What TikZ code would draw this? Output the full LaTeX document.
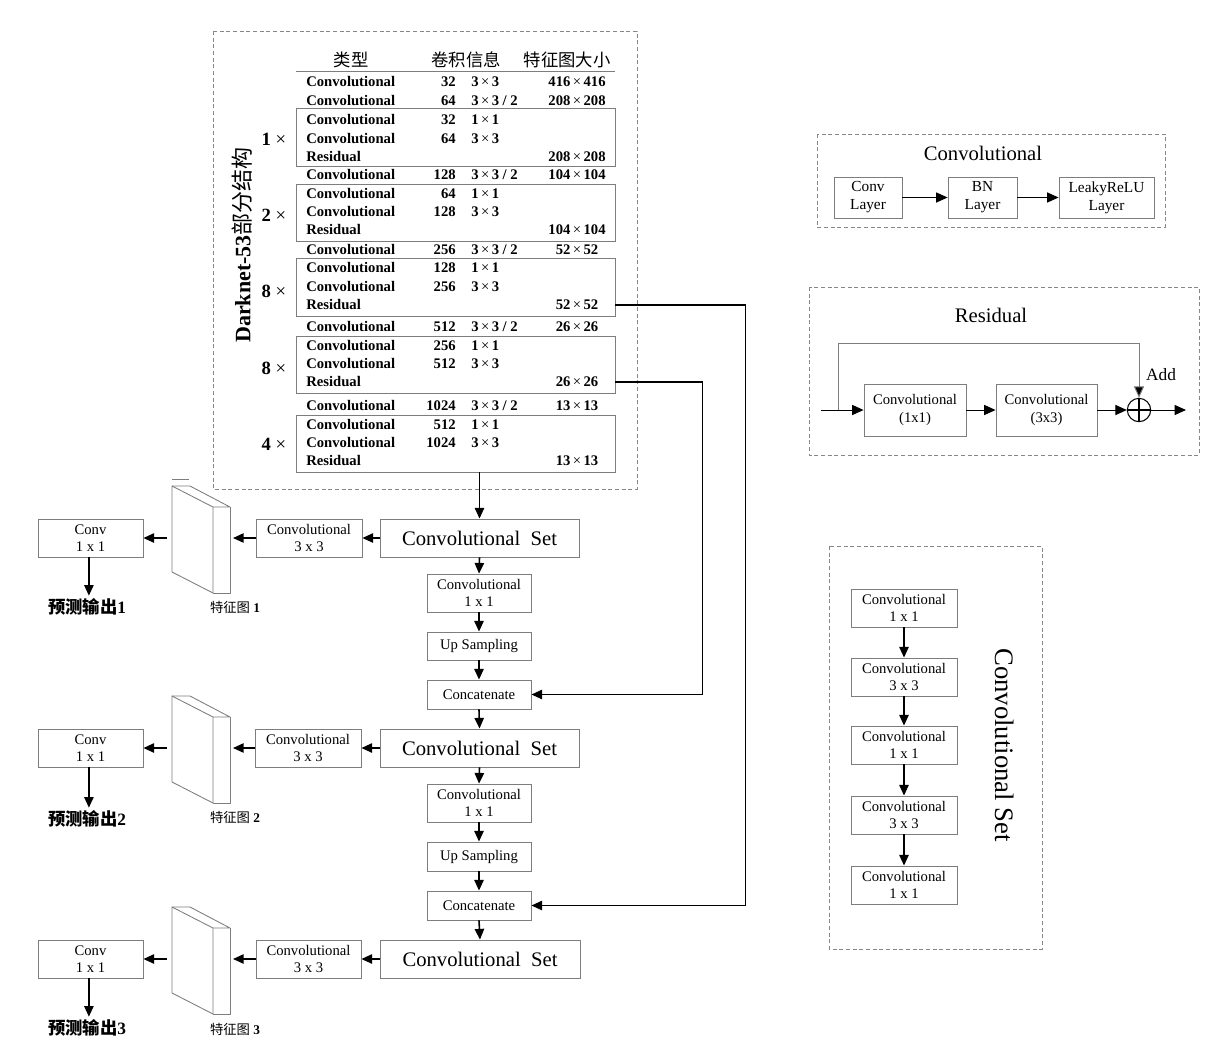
\documentclass[tikz,border=0pt]{standalone}
\usepackage{fontspec}
\setmainfont{Liberation Serif}
\newfontfamily\cjk{Noto Sans CJK SC}
\usetikzlibrary{arrows.meta,fit,calc}
\definecolor{boxgray}{RGB}{125,125,125}
\definecolor{dashgray}{RGB}{135,135,135}
\newcommand\fsz[2]{\fontsize{#1}{#2}\selectfont}
\newcommand\tms{{\mdseries ×}}
\newcommand\trow[6]{%
 \node[tt,anchor=mid west] (#1t) at (306,#2+1.5) {#3};
 \node[tt,anchor=mid east] (#1f) at (456,#2+1.5) {#4};
 \node[tt,anchor=mid west] (#1k) at (471,#2+1.5) {#5};
 \node[tt,anchor=mid] (#1s) at (577,#2+1.5) {#6};}
\newcommand\slab[2]{%
 \draw[slabline] (172,486+#2) -- (213,507+#2) -- (213,593+#2) -- (172,572+#2) -- cycle;
 \draw[slabline] (172,486+#2) -- (190,486+#2) -- (230,507+#2) -- (213,507+#2);
 \draw[slabline] (230,507+#2) -- (230,593+#2) -- (213,593+#2);
 \coordinate (#1r) at (233,538+#2);
 \coordinate (#1l) at (167,538+#2);}
\newcommand\bx[7][]{%
 \pgfmathsetmacro\bxcx{(#3+#5)/2}\pgfmathsetmacro\bxcy{(#4+#6)/2}%
 \pgfmathsetmacro\bxw{(#5-#3)*0.75}\pgfmathsetmacro\bxh{(#6-#4)*0.75}%
 \node[box,#1,minimum width=\bxw pt,minimum height=\bxh pt] (#2) at (\bxcx,\bxcy) {#7};}
\begin{document}
\begin{tikzpicture}[x=0.75pt,y=-0.75pt,
 box/.style={draw=boxgray,line width=0.65pt,inner sep=0pt,align=center,font=\fsz{11}{13.2}},
 tbox/.style={draw=boxgray,line width=0.65pt,inner sep=0pt},
 dbox/.style={draw=dashgray,line width=0.6pt,dash pattern=on 3pt off 2pt},
 tt/.style={inner sep=0pt,font=\bfseries\fsz{11}{13}},
 arr/.style={-{Triangle[length=8pt,width=7pt]},line width=1.2pt},
 thinarr/.style={-{Triangle[length=8.5pt,width=7.5pt]},line width=0.7pt},
 slabline/.style={draw=boxgray,line width=0.65pt,line join=round},
]
\fill[white] (0,0) rectangle (1222,1047);
\useasboundingbox (0,0) rectangle (1222,1047);

% ---------- Darknet table ----------
\draw[dbox] (213,31) rectangle (637,489);
\node[font=\cjk\fsz{13}{15}] (h1) at (351,60) {类型};
\node[font=\cjk\fsz{13}{15}] (h2) at (466,60) {卷积信息};
\node[font=\cjk\fsz{13}{15}] (h3) at (567,60) {特征图大小};
\draw[boxgray,line width=1.2pt] (296,71.5) -- (615,71.5);
\node[rotate=90,font=\bfseries\fsz{16.5}{19}] (dtitle) at (242,245) {Darknet-53{\cjk\mdseries 部分结构}};

\node[tbox,fit={(296,108) (615,166)}] (b1) {};
\node[tbox,fit={(296,184) (615,241)}] (b2) {};
\node[tbox,fit={(296,258) (615,316)}] (b3) {};
\node[tbox,fit={(296,336) (615,393)}] (b4) {};
\node[tbox,fit={(296,415) (615,472)}] (b5) {};

\node[font=\bfseries\fsz{14}{16}] (m1) at (274,139) {1 \tms};
\node[font=\bfseries\fsz{14}{16}] (m2) at (274,215) {2 \tms};
\node[font=\bfseries\fsz{14}{16}] (m3) at (274,291) {8 \tms};
\node[font=\bfseries\fsz{14}{16}] (m4) at (274,368) {8 \tms};
\node[font=\bfseries\fsz{14}{16}] (m5) at (274,444) {4 \tms};

\trow{r1}{82}{Convolutional}{32}{3\,\tms\,3}{416\,\tms\,416}
\trow{r2}{101}{Convolutional}{64}{3\,\tms\,3 / 2}{208\,\tms\,208}
\trow{r3}{120}{Convolutional}{32}{1\,\tms\,1}{}
\trow{r4}{139}{Convolutional}{64}{3\,\tms\,3}{}
\trow{r5}{157}{Residual}{}{}{208\,\tms\,208}
\trow{r6}{175}{Convolutional}{128}{3\,\tms\,3 / 2}{104\,\tms\,104}
\trow{r7}{194}{Convolutional}{64}{1\,\tms\,1}{}
\trow{r8}{212}{Convolutional}{128}{3\,\tms\,3}{}
\trow{r9}{230}{Residual}{}{}{104\,\tms\,104}
\trow{r10}{250}{Convolutional}{256}{3\,\tms\,3 / 2}{52\,\tms\,52}
\trow{r11}{268}{Convolutional}{128}{1\,\tms\,1}{}
\trow{r12}{287}{Convolutional}{256}{3\,\tms\,3}{}
\trow{r13}{305}{Residual}{}{}{52\,\tms\,52}
\trow{r14}{327}{Convolutional}{512}{3\,\tms\,3 / 2}{26\,\tms\,26}
\trow{r15}{346}{Convolutional}{256}{1\,\tms\,1}{}
\trow{r16}{364}{Convolutional}{512}{3\,\tms\,3}{}
\trow{r17}{382}{Residual}{}{}{26\,\tms\,26}
\trow{r18}{406}{Convolutional}{1024}{3\,\tms\,3 / 2}{13\,\tms\,13}
\trow{r19}{425}{Convolutional}{512}{1\,\tms\,1}{}
\trow{r20}{443}{Convolutional}{1024}{3\,\tms\,3}{}
\trow{r21}{461}{Residual}{}{}{13\,\tms\,13}

% ---------- main column ----------
\bx[font=\fsz{15.5}{18}]{cs1}{380}{519}{579}{557}{Convolutional~~Set}
\bx{c11}{427}{574}{531}{612}{Convolutional\\1 x 1}
\bx{up1}{427}{632}{531}{660}{Up Sampling}
\bx{cat1}{427}{680}{531}{709}{Concatenate}
\bx[font=\fsz{15.5}{18}]{cs2}{380}{729}{579}{767}{Convolutional~~Set}
\bx{c12}{427}{784}{531}{822}{Convolutional\\1 x 1}
\bx{up2}{427}{842}{531}{871}{Up Sampling}
\bx{cat2}{427}{891}{531}{920}{Concatenate}
\bx[font=\fsz{15.5}{18}]{cs3}{380}{940}{580}{978}{Convolutional~~Set}

\draw[arr] (cs1.north |- b5.south) -- (cs1.north);
\draw[arr] (cs1.south) -- (c11.north);
\draw[arr] (c11.south) -- (up1.north);
\draw[arr] (up1.south) -- (cat1.north);
\draw[arr] (cat1.south) -- (cs2.north);
\draw[arr] (cs2.south) -- (c12.north);
\draw[arr] (c12.south) -- (up2.north);
\draw[arr] (up2.south) -- (cat2.north);
\draw[arr] (cat2.south) -- (cs3.north);

\draw[arr] (b3.east |- r13s) -- ++(130,0) |- (cat2.east);
\draw[arr] (b4.east |- r17s) -- ++(87,0) |- (cat1.east);

% ---------- left branches ----------
\bx{k1}{256}{519}{362}{557}{Convolutional\\3 x 3}
\bx{k2}{255}{729}{361}{767}{Convolutional\\3 x 3}
\bx{k3}{256}{940}{361}{978}{Convolutional\\3 x 3}
\bx{o1}{38}{519}{143}{557}{Conv\\1 x 1}
\bx{o2}{38}{729}{143}{767}{Conv\\1 x 1}
\bx{o3}{38}{940}{143}{978}{Conv\\1 x 1}

\slab{f1}{0}
\slab{f2}{210}
\slab{f3}{421}
\draw[boxgray,line width=0.7pt] (172,479) -- (189,479);

\node[inner sep=2pt,font=\fsz{13}{15}] (p1) at (87,607) {{\cjk\bfseries 预测输出}\textbf{1}};
\node[inner sep=2pt,font=\fsz{13}{15}] (p2) at (87,819) {{\cjk\bfseries 预测输出}\textbf{2}};
\node[inner sep=2pt,font=\fsz{13}{15}] (p3) at (87,1028) {{\cjk\bfseries 预测输出}\textbf{3}};
\node[font=\fsz{10}{12}] (t1) at (235,607) {{\cjk 特征图} \textbf{1}};
\node[font=\fsz{10}{12}] (t2) at (235,817) {{\cjk 特征图} \textbf{2}};
\node[font=\fsz{10}{12}] (t3) at (235,1029) {{\cjk 特征图} \textbf{3}};

\draw[arr] (cs1.west) -- (k1.east);
\draw[arr] (cs2.west) -- (k2.east);
\draw[arr] (cs3.west) -- (k3.east);
\draw[arr] (k1.west) -- (f1r);
\draw[arr] (k2.west) -- (f2r);
\draw[arr] (k3.west) -- (f3r);
\draw[arr] (f1l) -- (o1.east);
\draw[arr] (f2l) -- (o2.east);
\draw[arr] (f3l) -- (o3.east);
\draw[arr] ([xshift=-1.2pt]o1.south) -- ([xshift=-1.2pt]o1.south |- p1.north);
\draw[arr] ([xshift=-1.2pt]o2.south) -- ([xshift=-1.2pt]o2.south |- p2.north);
\draw[arr] ([xshift=-1.2pt]o3.south) -- ([xshift=-1.2pt]o3.south |- p3.north);

% ---------- Convolutional panel ----------
\draw[dbox] (817,134) rectangle (1165,227);
\node[font=\fsz{15.5}{18}] (ctitle) at (983,153) {Convolutional};
\bx[font=\fsz{11.5}{13.5}]{cl}{834}{177}{902}{218}{Conv\\Layer}
\bx[font=\fsz{11.5}{13.5}]{bn}{948}{177}{1017}{218}{BN\\Layer}
\bx[font=\fsz{11.5}{13.5}]{lr}{1059}{177}{1154}{218}{LeakyReLU\\Layer}
\draw[thinarr] (cl.east) -- (bn.west);
\draw[thinarr] (bn.east) -- (lr.west);

% ---------- Residual panel ----------
\draw[dbox] (809,287) rectangle (1199,455);
\node[font=\fsz{15.5}{18}] (rtitle) at (991,315) {Residual};
\bx{rc1}{864}{384}{966}{436}{Convolutional\\(1x1)}
\bx{rc2}{996}{384}{1097}{436}{Convolutional\\(3x3)}
\node[draw,circle,line width=0.8pt,minimum size=17.5pt,inner sep=0pt] (add) at (1139,410) {};
\draw[line width=0.8pt] (add.north) -- (add.south) (add.west) -- (add.east);
\node[font=\fsz{13}{15}] (addl) at (1161,375) {Add};
\coordinate (rin) at (821,410);
\coordinate (rbr) at (838,410);
\coordinate (rtop) at (1139,343);
\coordinate (rout) at (1186,410);
\draw[thinarr] (rin) -- (rc1.west);
\draw[thinarr] (rc1.east) -- (rc2.west);
\draw[thinarr] (rc2.east) -- (add.west);
\draw[thinarr] (add.east) -- (rout);
\draw[thinarr,draw=boxgray,-{Triangle[length=8.5pt,width=7.5pt,fill=black]}] (rbr) |- (rtop) -- (add.north);

% ---------- Convolutional Set panel ----------
\draw[dbox] (829,546) rectangle (1042,949);
\bx{s1}{851}{589}{957}{627}{Convolutional\\1 x 1}
\bx{s2}{851}{658}{957}{696}{Convolutional\\3 x 3}
\bx{s3}{851}{726}{957}{764}{Convolutional\\1 x 1}
\bx{s4}{851}{796}{957}{834}{Convolutional\\3 x 3}
\bx{s5}{851}{866}{957}{904}{Convolutional\\1 x 1}
\draw[arr] (s1.south) -- (s2.north);
\draw[arr] (s2.south) -- (s3.north);
\draw[arr] (s3.south) -- (s4.north);
\draw[arr] (s4.south) -- (s5.north);
\node[rotate=-90,font=\fsz{20}{24}] (cstitle) at (1005,745) {Convolutional Set};
\end{tikzpicture}
\end{document}
